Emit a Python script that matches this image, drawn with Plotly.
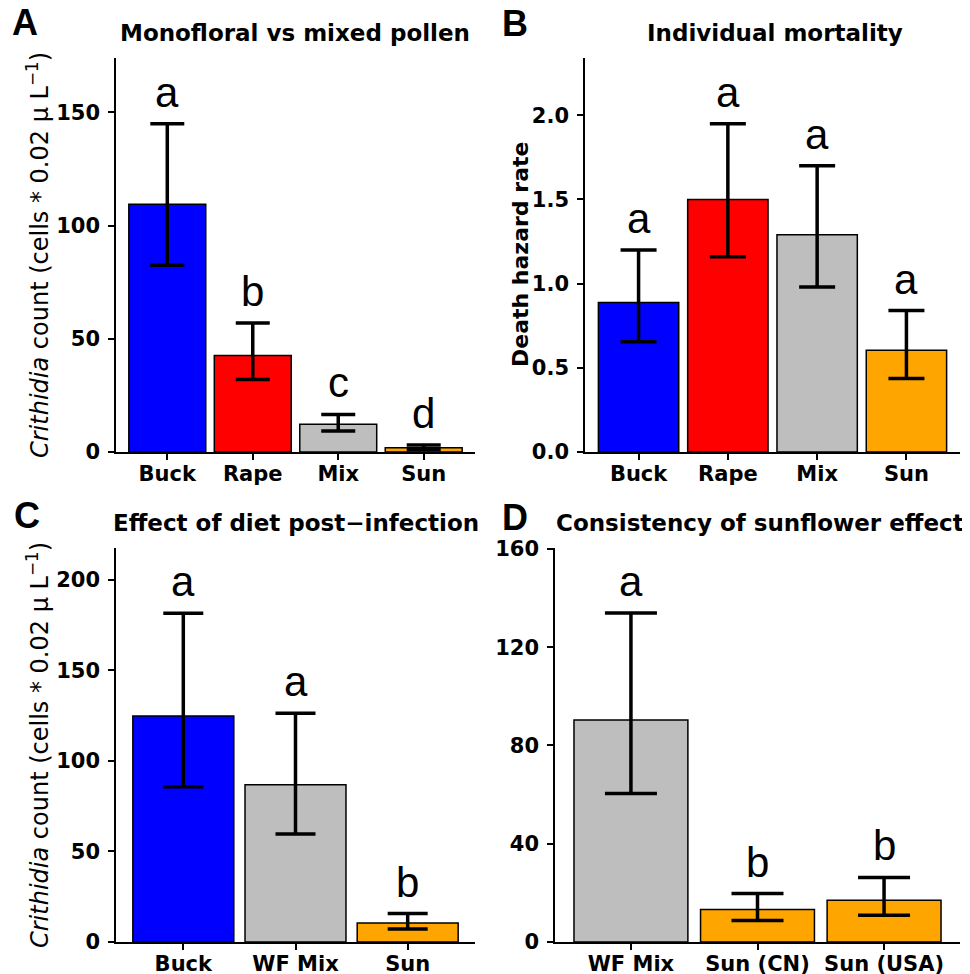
import plotly.graph_objects as go

# ---------------- data ----------------
# Panel A: Monofloral vs mixed pollen
a_cats = ["Buck", "Rape", "Mix", "Sun"]
a_mean = [109.4, 42.6, 12.2, 1.9]
a_upper = [145.0, 57.0, 16.6, 3.1]
a_lower = [82.5, 32.0, 9.3, 1.0]
a_letters = ["a", "b", "c", "d"]
a_ticks = [0, 50, 100, 150]

# Panel B: Individual mortality
b_cats = ["Buck", "Rape", "Mix", "Sun"]
b_mean = [0.888, 1.50, 1.29, 0.605]
b_upper = [1.20, 1.95, 1.70, 0.84]
b_lower = [0.655, 1.16, 0.98, 0.437]
b_letters = ["a", "a", "a", "a"]
b_ticks = [0.0, 0.5, 1.0, 1.5, 2.0]

# Panel C: Effect of diet post-infection
c_cats = ["Buck", "WF Mix", "Sun"]
c_mean = [124.8, 86.8, 10.5]
c_upper = [181.6, 126.3, 15.7]
c_lower = [85.7, 59.6, 7.2]
c_letters = ["a", "a", "b"]
c_ticks = [0, 50, 100, 150, 200]

# Panel D: Consistency of sunflower effect
d_cats = ["WF Mix", "Sun (CN)", "Sun (USA)"]
d_mean = [90.4, 13.2, 17.0]
d_upper = [133.9, 19.7, 26.3]
d_lower = [60.5, 8.8, 10.9]
d_letters = ["a", "b", "b"]
d_ticks = [0, 40, 80, 120, 160]

# ---------------- styles ----------------
COL = {"Buck": "#0000FF", "Rape": "#FF0000", "Mix": "#BEBEBE", "WF Mix": "#BEBEBE",
       "Sun": "#FFA500", "Sun (CN)": "#FFA500", "Sun (USA)": "#FFA500"}
OFF = 8  # page body margin
W, H = 970 - OFF, 974 - OFF


def px_x(p):
    return (p - OFF) / W


def px_y(p):
    return 1 - (p - OFF) / H


panels = [
    dict(cats=a_cats, mean=a_mean, up=a_upper, lo=a_lower, let=a_letters, ticks=a_ticks,
         fmt="", yr=[0, 174], dom_x=(116, 475), dom_y=(58, 452), cap=17,
         title="Monofloral vs mixed pollen", title_x=295, title_y=33,
         tag="A", tag_x=25, tag_y=23),
    dict(cats=b_cats, mean=b_mean, up=b_upper, lo=b_lower, let=b_letters, ticks=b_ticks,
         fmt=".1f", yr=[0, 2.34], dom_x=(585, 960), dom_y=(58, 452), cap=18,
         title="Individual mortality", title_x=775, title_y=33,
         tag="B", tag_x=515, tag_y=24),
    dict(cats=c_cats, mean=c_mean, up=c_upper, lo=c_lower, let=c_letters, ticks=c_ticks,
         fmt="", yr=[0, 217.6], dom_x=(116, 475), dom_y=(548, 942), cap=20,
         title="Effect of diet post\u2212infection", title_x=296, title_y=523,
         tag="C", tag_x=27, tag_y=515),
    dict(cats=d_cats, mean=d_mean, up=d_upper, lo=d_lower, let=d_letters, ticks=d_ticks,
         fmt="", yr=[0, 160.4], dom_x=(555, 960), dom_y=(548, 942), cap=26,
         title="Consistency of sunflower effect", title_x=760, title_y=523,
         tag="D", tag_x=515, tag_y=517),
]

fig = go.Figure()
layout = dict(width=W, height=H, margin=dict(l=0, r=0, t=0, b=0, autoexpand=False),
              paper_bgcolor="white", plot_bgcolor="white", showlegend=False,
              bargap=0.1)
annotations = []
bold_font = dict(family="DejaVu Sans", size=21, color="black", weight="bold")

for i, p in enumerate(panels):
    k = "" if i == 0 else str(i + 1)
    xa, ya = "x" + k, "y" + k
    n = len(p["cats"])
    fig.add_trace(go.Bar(
        x=p["cats"], y=p["mean"], xaxis=xa, yaxis=ya, width=0.9,
        marker=dict(color=[COL[c] for c in p["cats"]], line=dict(color="black", width=1.5)),
        error_y=dict(type="data", symmetric=False,
                     array=[u - m for u, m in zip(p["up"], p["mean"])],
                     arrayminus=[m - l for m, l in zip(p["mean"], p["lo"])],
                     color="black", thickness=3.5, width=p["cap"]),
        hoverinfo="skip"))
    axstyle = dict(showline=True, linecolor="black", linewidth=1.5, ticks="outside",
                   ticklen=6, tickwidth=1.5, tickcolor="black", showgrid=False,
                   zeroline=False, tickfont=bold_font, automargin=False)
    layout["xaxis" + k] = dict(axstyle, domain=[px_x(p["dom_x"][0]), px_x(p["dom_x"][1])],
                               anchor=ya, type="category", range=[-0.6, n - 0.4],
                               categoryorder="array", categoryarray=p["cats"],
                               ticklabelstandoff=-4)
    layout["yaxis" + k] = dict(axstyle, domain=[px_y(p["dom_y"][1]), px_y(p["dom_y"][0])],
                               anchor=xa, range=p["yr"], tickvals=p["ticks"],
                               tickformat=p["fmt"], ticklabelstandoff=4)
    for c, u, t in zip(p["cats"], p["up"], p["let"]):
        annotations.append(dict(x=c, y=u, xref=xa, yref=ya, text=t, showarrow=False,
                                yanchor="bottom", yshift=6,
                                font=dict(family="Liberation Sans", size=42, color="black")))
    annotations.append(dict(x=px_x(p["title_x"]), y=px_y(p["title_y"]), xref="paper",
                            yref="paper", text=p["title"], showarrow=False,
                            xanchor="center", yanchor="middle",
                            font=dict(family="DejaVu Sans", size=23, color="black",
                                      weight="bold")))
    annotations.append(dict(x=px_x(p["tag_x"]), y=px_y(p["tag_y"]), xref="paper",
                            yref="paper", text=p["tag"], showarrow=False,
                            xanchor="center", yanchor="middle",
                            font=dict(family="Liberation Sans", size=36, color="black",
                                      weight="bold")))

ylab = "<i>Crithidia</i> count (cells * 0.02 \u00b5 L<sup>\u22121</sup>)"
for yc in (255, 745):
    annotations.append(dict(x=px_x(38), y=px_y(yc), xref="paper", yref="paper",
                            text=ylab, textangle=-90, showarrow=False,
                            xanchor="center", yanchor="middle",
                            font=dict(family="DejaVu Sans", size=24, color="black")))
annotations.append(dict(x=px_x(520), y=px_y(255), xref="paper", yref="paper",
                        text="Death hazard rate", textangle=-90, showarrow=False,
                        xanchor="center", yanchor="middle",
                        font=dict(family="DejaVu Sans", size=22, color="black",
                                  weight="bold")))

layout["annotations"] = annotations
fig.update_layout(**layout)
fig.write_html("out.html")
